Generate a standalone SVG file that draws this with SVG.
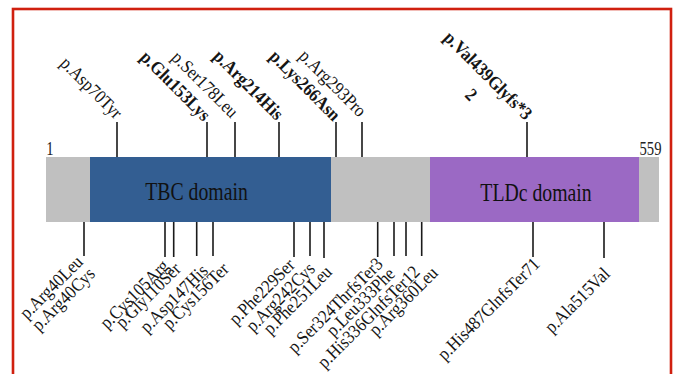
<svg xmlns="http://www.w3.org/2000/svg" width="676" height="374" viewBox="0 0 676 374">
<style>
.lbl{font-family:"Liberation Serif","Times New Roman",serif;font-size:18.5px;fill:#151515}
.b{font-weight:bold}
.dom{font-family:"Liberation Serif","Times New Roman",serif;font-size:26px;fill:#111;text-anchor:middle}
.num{font-family:"Liberation Serif","Times New Roman",serif;font-size:19px;fill:#222}
.tick{stroke:#1a1a1a;stroke-width:1.6;fill:none}
</style>
<rect x="0" y="0" width="676" height="374" fill="#ffffff"/>
<rect x="13" y="9" width="658" height="420" fill="none" stroke="#d0200f" stroke-width="2.6"/>
<g id="protein">
<rect x="46" y="157" width="613" height="65" fill="#c0c0c0"/>
</g>
<g id="tbc-domain">
<rect x="90" y="157" width="241" height="65" fill="#335e92"/>
<text class="dom" transform="translate(196.5 200) scale(0.76 1)">TBC domain</text>
</g>
<g id="tldc-domain">
<rect x="430" y="157" width="209" height="65" fill="#9b69c4"/>
<text class="dom" transform="translate(536 201) scale(0.76 1)">TLDc domain</text>
</g>
<g id="ends">
<text class="num" transform="translate(50 155) scale(0.77 1)" text-anchor="middle">1</text>
<text class="num" transform="translate(650.5 155) scale(0.77 1)" text-anchor="middle">559</text>
</g>
<g id="connectors">
<path class="tick" d="M117 122V157M207 122V157M235 122V157M279 122V157M336 122V157M362 122V157M527 122V157"/>
<path class="tick" d="M84 222V256M165 222V257M173.7 222V257M196.7 222V256M213 222V256M294 222V257M310 222V256M324 222V258M377.7 222V257M394 222V256M406 222V256M421.7 222V256M533 222V257M604 222V258"/>
</g>
<g id="top-labels" text-anchor="end">
<text class="lbl" transform="translate(115 120) rotate(45) scale(0.9 1)">p.Asp70Tyr</text>
<text class="lbl b" transform="translate(203 122) rotate(45) scale(0.9 1)">p.Glu153Lys</text>
<text class="lbl" transform="translate(231 119) rotate(45) scale(0.9 1)">p.Ser178Leu</text>
<text class="lbl b" transform="translate(276 121) rotate(45) scale(0.9 1)">p.Arg214His</text>
<text class="lbl b" transform="translate(333 122) rotate(45) scale(0.9 1)">p.Lys266Asn</text>
<text class="lbl" transform="translate(359 118) rotate(45) scale(0.9 1)">p.Arg293Pro</text>
<text class="lbl b" transform="translate(525 121) rotate(45) scale(0.9 1)">p.Val439Glyfs*3</text>
<text class="lbl b" transform="translate(467 99) rotate(45) scale(0.9 1)" text-anchor="middle">2</text>
</g>
<g id="bottom-labels" text-anchor="end">
<text class="lbl" transform="translate(84 263) rotate(-45) scale(0.9 1)">p.Arg40Leu</text>
<text class="lbl" transform="translate(96 275) rotate(-45) scale(0.9 1)">p.Arg40Cys</text>
<text class="lbl" transform="translate(170 267) rotate(-45) scale(0.9 1)">p.Cys105Arg</text>
<text class="lbl" transform="translate(182 270) rotate(-45) scale(0.9 1)">p.Gly110Ser</text>
<text class="lbl" transform="translate(209 272) rotate(-45) scale(0.9 1)">p.Asp147His</text>
<text class="lbl" transform="translate(230 270) rotate(-45) scale(0.9 1)">p.Cys156Ter</text>
<text class="lbl" transform="translate(296 266) rotate(-45) scale(0.9 1)">p.Phe229Ser</text>
<text class="lbl" transform="translate(316 270) rotate(-45) scale(0.9 1)">p.Arg242Cys</text>
<text class="lbl" transform="translate(333 273) rotate(-45) scale(0.9 1)">p.Phe251Leu</text>
<text class="lbl" transform="translate(384 265) rotate(-45) scale(0.9 1)">p.Ser324ThrfsTer3</text>
<text class="lbl" transform="translate(396 275) rotate(-45) scale(0.9 1)">p.Leu333Phe</text>
<text class="lbl" transform="translate(421 273) rotate(-45) scale(0.9 1)">p.His336GlnfsTer12</text>
<text class="lbl" transform="translate(439 274) rotate(-45) scale(0.9 1)">p.Arg360Leu</text>
<text class="lbl" transform="translate(541 265) rotate(-45) scale(0.9 1)">p.His487GlnfsTer71</text>
<text class="lbl" transform="translate(611 275) rotate(-45) scale(0.9 1)">p.Ala515Val</text>
</g>
</svg>
